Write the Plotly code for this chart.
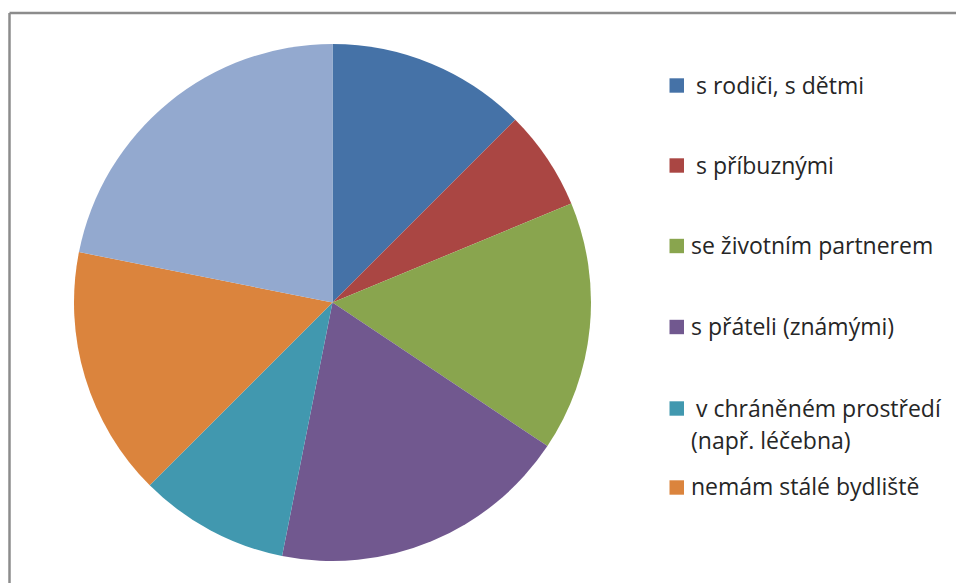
import plotly.graph_objects as go

# Living situation categories and respondent counts
labels = [
    "s rodiči, s dětmi",
    "s příbuznými",
    "se životním partnerem",
    "s přáteli (známými)",
    "v chráněném prostředí (např. léčebna)",
    "nemám stálé bydliště",
    "jiné",
]
counts = [4, 2, 5, 6, 3, 5, 7]
colors = ["#4572A7", "#AA4643", "#89A54E", "#71588F", "#4198AF", "#DB843D", "#93A9CF"]

# Legend rows drawn beside the pie: (text lines, square centre y in px, text x in px)
legend_rows = [
    (["s rodiči, s dětmi"], 85.5, 694),
    (["s příbuznými"], 165.5, 694),
    (["se životním partnerem"], 246, 689),
    (["s přáteli (známými)"], 327, 689),
    (["v chráněném prostředí", "(např. léčebna)"], 408.5, 694),
    (["nemám stálé bydliště"], 487.5, 689),
]

W, H = 956, 583


def px(x):
    return x / W


def py(y):
    return 1 - y / H


cx, cy, r = 332.5, 302.5, 258.5

fig = go.Figure(
    go.Pie(
        labels=labels,
        values=counts,
        sort=False,
        direction="clockwise",
        rotation=0,
        textinfo="none",
        hoverinfo="label+value+percent",
        marker=dict(colors=colors, line=dict(width=0)),
        domain=dict(x=[px(cx - r), px(cx + r)], y=[py(cy + r), py(cy - r)]),
        showlegend=False,
    )
)

shapes = [
    # chart frame (top and left edges)
    dict(type="line", xref="paper", yref="paper", x0=px(9.5), y0=py(13), x1=px(960), y1=py(13),
         line=dict(color="#8c8c8c", width=2.5)),
    dict(type="line", xref="paper", yref="paper", x0=px(9.5), y0=py(13), x1=px(9.5), y1=py(590),
         line=dict(color="#8c8c8c", width=2.5)),
]
annotations = []
for i, (lines, ys, tx) in enumerate(legend_rows):
    shapes.append(dict(type="rect", xref="paper", yref="paper",
                       x0=px(669.5), x1=px(684), y0=py(ys - 7.2), y1=py(ys + 7.2),
                       fillcolor=colors[i], line=dict(width=0)))
    for j, t in enumerate(lines):
        annotations.append(dict(
            text=t, xref="paper", yref="paper",
            x=px(tx if j == 0 else 689), y=py(ys - 1 + j * 32),
            xanchor="left", yanchor="middle", showarrow=False,
            font=dict(family="Open Sans", size=23, color="#262626"),
        ))

fig.update_layout(
    width=W, height=H,
    margin=dict(l=0, r=0, t=0, b=0),
    paper_bgcolor="white",
    plot_bgcolor="white",
    shapes=shapes,
    annotations=annotations,
)

fig.write_html("out.html")
